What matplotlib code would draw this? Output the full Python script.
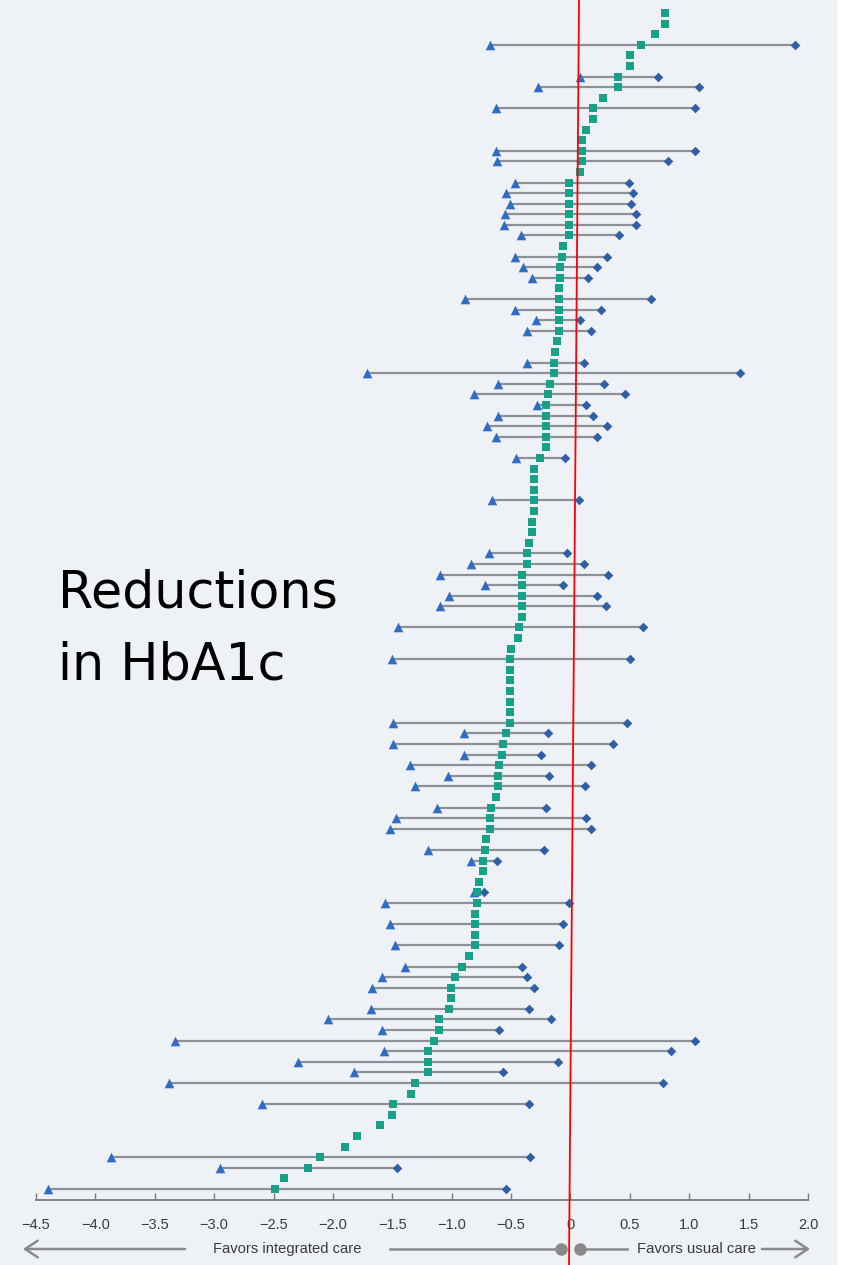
import matplotlib
matplotlib.use("Agg")
import matplotlib.pyplot as plt
from matplotlib.lines import Line2D
from matplotlib.patches import Rectangle, FancyArrowPatch

# Point estimate (difference in HbA1c) for each study, sorted from top to bottom
effect = [
    0.80, 0.80, 0.71, 0.59, 0.50, 0.50, 0.40, 0.40, 0.275, 0.19, 0.19, 0.13,
    0.10, 0.10, 0.10, 0.08,
    -0.01, -0.01, -0.01, -0.01, -0.01, -0.01,
    -0.06, -0.07, -0.09, -0.09,
    -0.10, -0.10, -0.10, -0.10, -0.10,
    -0.115, -0.13, -0.14, -0.14, -0.17, -0.185,
    -0.21, -0.21, -0.21, -0.21, -0.21,
    -0.255,
    -0.31, -0.31, -0.31, -0.31, -0.31,
    -0.32, -0.32,
    -0.35, -0.365, -0.365,
    -0.41, -0.41, -0.41, -0.41, -0.41,
    -0.43, -0.44, -0.50,
    -0.51, -0.51, -0.51, -0.51, -0.51, -0.51, -0.51,
    -0.54, -0.57, -0.58, -0.60, -0.61, -0.61, -0.63, -0.67, -0.68, -0.68,
    -0.71, -0.72, -0.74, -0.74, -0.77, -0.79, -0.79,
    -0.80, -0.80, -0.80, -0.80,
    -0.855, -0.915, -0.976, -1.01, -1.01, -1.02, -1.105, -1.105, -1.145,
    -1.20, -1.20, -1.20, -1.31, -1.34, -1.49, -1.50, -1.60, -1.80, -1.90,
    -2.11, -2.21, -2.41, -2.49,
]

# Studies that report an interval: row index, lower bound, upper bound
ci_rows = [3, 6, 7, 9, 13, 14, 16, 17, 18, 19, 20, 21, 23, 24, 25, 27, 28, 29,
           30, 33, 34, 35, 36, 37, 38, 39, 40, 42, 46, 51, 52, 53, 54, 55, 56,
           58, 61, 67, 68, 69, 70, 71, 72, 73, 75, 76, 77, 79, 80, 83, 84, 86,
           88, 90, 91, 92, 94, 95, 96, 97, 98, 99, 100, 101, 103, 108, 109, 111]
ci_low = [-0.68, 0.08, -0.27, -0.63, -0.63, -0.62, -0.47, -0.54, -0.51, -0.55,
          -0.56, -0.42, -0.47, -0.40, -0.32, -0.89, -0.47, -0.29, -0.37, -0.37,
          -1.71, -0.61, -0.81, -0.28, -0.61, -0.70, -0.63, -0.46, -0.66, -0.69,
          -0.84, -1.10, -0.72, -1.02, -1.10, -1.45, -1.50, -1.49, -0.90, -1.49,
          -0.90, -1.35, -1.03, -1.31, -1.12, -1.47, -1.52, -1.20, -0.84, -0.81,
          -1.56, -1.52, -1.48, -1.39, -1.59, -1.67, -1.68, -2.04, -1.59, -3.33,
          -1.57, -2.29, -1.82, -3.38, -2.60, -3.87, -2.95, -4.40]
ci_high = [1.89, 0.74, 1.08, 1.05, 1.05, 0.82, 0.49, 0.53, 0.51, 0.55,
           0.55, 0.41, 0.31, 0.22, 0.15, 0.68, 0.26, 0.08, 0.17, 0.11,
           1.43, 0.28, 0.46, 0.13, 0.19, 0.31, 0.22, -0.05, 0.07, -0.03,
           0.11, 0.32, -0.06, 0.22, 0.30, 0.61, 0.50, 0.48, -0.19, 0.36,
           -0.25, 0.17, -0.18, 0.12, -0.21, 0.13, 0.17, -0.22, -0.62, -0.73,
           -0.01, -0.06, -0.10, -0.41, -0.37, -0.31, -0.35, -0.16, -0.60, 1.05,
           0.85, -0.105, -0.57, 0.78, -0.35, -0.34, -1.46, -0.54]

tick_values = [-4.5, -4.0, -3.5, -3.0, -2.5, -2.0, -1.5, -1.0, -0.5, 0, 0.5, 1.0, 1.5, 2.0]
tick_labels = ["\u22124.5", "\u22124.0", "\u22123.5", "\u22123.0", "\u22122.5", "\u22122.0",
               "\u22121.5", "\u22121.0", "\u22120.5", "0", "0.5", "1.0", "1.5", "2.0"]

W, H = 846, 1265
BG = "#eef1f5"
LINE = "#8d9196"
TRI = "#2f6cc6"
DIA = "#2f5fa6"
GREEN = "#17a08a"
TEXT = "#3a3a3a"
ARROW = "#8a8a8a"

fig = plt.figure(figsize=(W / 100, H / 100), dpi=100, facecolor="white")
fig.add_artist(Rectangle((0, 0), 837 / W, 1, transform=fig.transFigure,
                         facecolor=BG, edgecolor="none", zorder=0))

ax_bottom_px = 1200
ax = fig.add_axes([36 / W, (H - ax_bottom_px) / H, (808 - 36) / W, ax_bottom_px / H])
ax.patch.set_alpha(0)

n = len(effect)
rows = list(range(n))
row_step = (1189 - 13) / (n - 1)
ax.set_xlim(-4.5, 2.0)
ax.set_ylim(n - 1 + (ax_bottom_px - 1189) / row_step, -13 / row_step)

# interval lines with markers at both ends
ax.hlines(ci_rows, ci_low, ci_high, color=LINE, lw=1.6, zorder=2)
ax.scatter(ci_low, ci_rows, marker="^", s=48, color=TRI, zorder=4, linewidths=0)
ax.scatter(ci_high, ci_rows, marker="D", s=24, color=DIA, zorder=4, linewidths=0)
# point estimates
ax.scatter(effect, rows, marker="s", s=28, color=GREEN, zorder=5, linewidths=0)

for s in ["top", "right", "left"]:
    ax.spines[s].set_visible(False)
ax.spines["bottom"].set_color("#777b80")
ax.spines["bottom"].set_linewidth(1.3)
ax.set_yticks([])
ax.set_xticks(tick_values)
ax.set_xticklabels(tick_labels, fontsize=10.5, color=TEXT, family="Liberation Sans")
ax.tick_params(axis="x", direction="in", length=5, width=1, color="#777b80", pad=13)

# direction annotation below the axis
ya = (H - 1249) / H
arrow_kw = dict(arrowstyle="->,head_length=0.9,head_width=0.6", mutation_scale=10,
                color=ARROW, lw=1.8, shrinkA=0, shrinkB=0, transform=fig.transFigure)
fig.add_artist(FancyArrowPatch((185 / W, ya), (23 / W, ya), **arrow_kw))
fig.add_artist(FancyArrowPatch((762 / W, ya), (810 / W, ya), **arrow_kw))
fig.add_artist(Line2D([390 / W, 561 / W], [ya, ya], color=ARROW, lw=1.8,
                      transform=fig.transFigure))
fig.add_artist(Line2D([580 / W, 627 / W], [ya, ya], color=ARROW, lw=1.8,
                      transform=fig.transFigure))
fig.add_artist(Line2D([561 / W, 580 / W], [ya, ya], ls="none", marker="o", ms=8,
                      color=ARROW, transform=fig.transFigure))
fig.text(287 / W, ya, "Favors integrated care", ha="center", va="center",
         fontsize=10.6, color=TEXT, family="Liberation Sans")
fig.text(696 / W, ya, "Favors usual care", ha="center", va="center",
         fontsize=10.8, color=TEXT, family="Liberation Sans")

# headline
fig.text(58 / W, (H - 608) / H, "Reductions", ha="left", va="baseline",
         fontsize=36.5, color="black", family="DejaVu Sans")
fig.text(58 / W, (H - 679) / H, "in HbA1c", ha="left", va="baseline",
         fontsize=36.5, color="black", family="DejaVu Sans")

# reference line at zero
fig.add_artist(Line2D([579 / W, 569 / W], [1, 0], color="red", lw=1.3,
                      transform=fig.transFigure, zorder=10))

fig.savefig("out.png", dpi=100, facecolor="white")
